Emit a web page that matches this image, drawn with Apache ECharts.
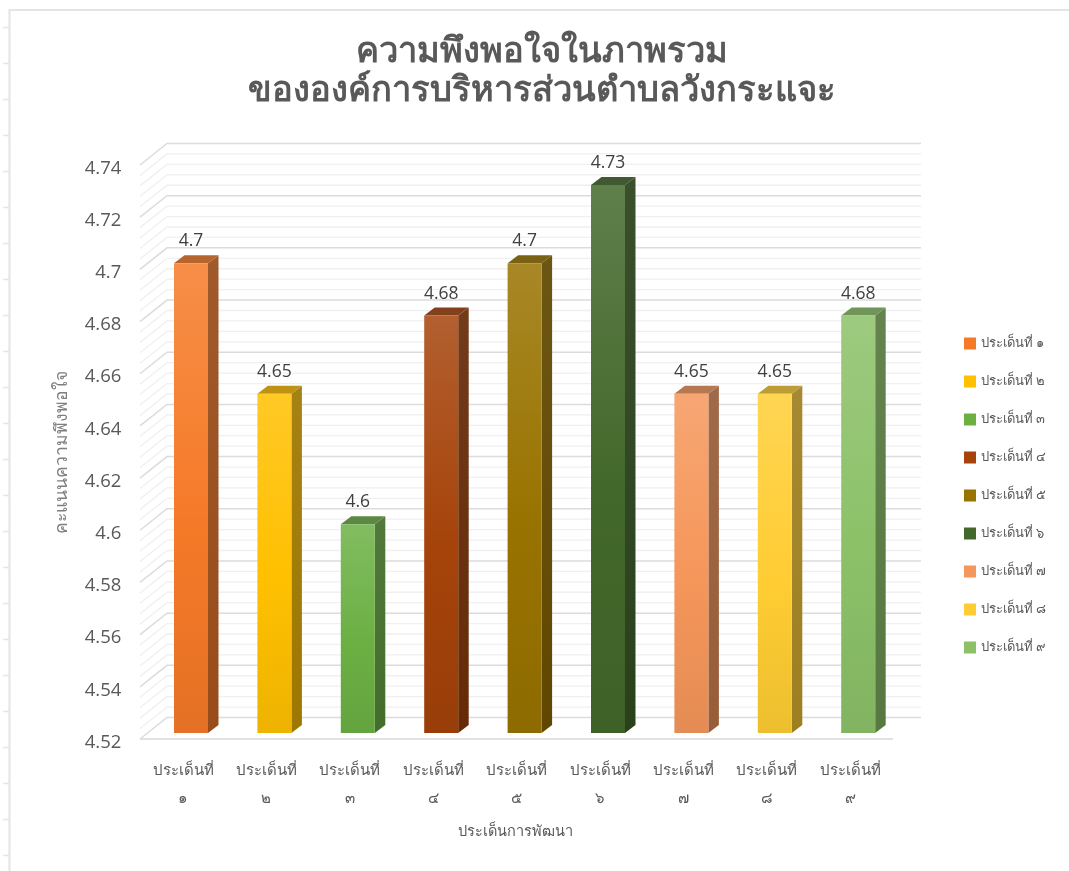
<!DOCTYPE html>
<html>
<head>
<meta charset="utf-8">
<style>html,body{margin:0;padding:0;background:#fff}#c{width:1069px;height:871px}</style>
<script src="https://cdn.jsdelivr.net/npm/echarts@6/dist/echarts.min.js"></script>
</head>
<body>
<div id="c"></div>
<script>
const titleText = "ความพึงพอใจในภาพรวม\nขององค์การบริหารส่วนตำบลวังกระแจะ";
const yAxisName = "คะแนนความพึงพอใจ";
const xAxisName = "ประเด็นการพัฒนา";
const categories = ["ประเด็นที่\n๑","ประเด็นที่\n๒","ประเด็นที่\n๓","ประเด็นที่\n๔","ประเด็นที่\n๕","ประเด็นที่\n๖","ประเด็นที่\n๗","ประเด็นที่\n๘","ประเด็นที่\n๙"];
const seriesNames = ["ประเด็นที่ ๑","ประเด็นที่ ๒","ประเด็นที่ ๓","ประเด็นที่ ๔","ประเด็นที่ ๕","ประเด็นที่ ๖","ประเด็นที่ ๗","ประเด็นที่ ๘","ประเด็นที่ ๙"];
const values = [4.7,4.65,4.6,4.68,4.7,4.73,4.65,4.65,4.68];
const palette = ["#F57A28","#FFC000","#6CB044","#A5430A","#997300","#43682B","#F5965A","#FFCD33","#8CC168"];
const majorGrid = [4.52,4.54,4.56,4.58,4.6,4.62,4.64,4.66,4.68,4.7,4.72,4.74];
const minorGrid = [4.524,4.528,4.532,4.536,4.544,4.548,4.552,4.556,4.564,4.568,4.572,4.576,4.584,4.588,4.592,4.596,4.604,4.608,4.612,4.616,4.624,4.628,4.632,4.636,4.644,4.648,4.652,4.656,4.664,4.668,4.672,4.676,4.684,4.688,4.692,4.696,4.704,4.708,4.712,4.716,4.724,4.728,4.732,4.736];

const FONT = '"Open Sans","Noto Sans","DejaVu Sans","Noto Sans CJK SC",sans-serif';
const Y_MIN = 4.52, Y_MAX = 4.74;
const chart = echarts.init(document.getElementById('c'), null, {renderer:'canvas'});

function rgb(c){return [1,3,5].map(i=>parseInt(c.substr(i,2),16));}
function mix(c,t,a){const x=Array.isArray(c)?c:rgb(c),y=rgb(t);return x.map((v,i)=>Math.round(v*(1-a)+y[i]*a));}
function css(a){return 'rgb('+a.join(',')+')';}

function renderBar(params, api){
  const color = palette[params.seriesIndex-1];
  const val = api.value(1);
  const top = api.coord([api.value(0), val]);
  const base = api.coord([api.value(0), Y_MIN]);
  const w = 34, dx = 10.5, dy = 8, shift = -6;
  const x0 = top[0]-w/2, x1 = top[0]+w/2;
  const yt = top[1]+shift, yb = base[1]+shift;
  const G = echarts.graphic.LinearGradient;
  return {type:'group',children:[
    {type:'polygon',shape:{points:[[x1,yt],[x1+dx,yt-dy],[x1+dx,yb-dy],[x1,yb]]},
     style:{fill:new G(0,0,0,1,[{offset:0,color:css(mix(mix(color,'#000000',.38),'#ffffff',.08))},{offset:1,color:css(mix(color,'#000000',.38))}])}},
    {type:'polygon',shape:{points:[[x0,yt],[x0+dx,yt-dy],[x1+dx,yt-dy],[x1,yt]]},
     style:{fill:css(mix(mix(color,'#000000',.28),'#ffffff',.08))}},
    {type:'rect',shape:{x:x0,y:yt,width:w,height:yb-yt},
     style:{fill:new G(0,0,0,1,[{offset:0,color:css(mix(color,'#ffffff',.15))},{offset:.55,color:color},{offset:1,color:css(mix(color,'#000000',.07))}])}},
    {type:'text',style:{text:String(val),x:top[0],y:yt-22,align:'center',verticalAlign:'middle',
      font:'17.5px '+FONT,fill:'#404040'}}
  ]};
}

function renderGrid(params, api){
  const v = api.value(0), major = api.value(1)===1;
  const front = api.coord([0,v])[1];
  const fx = 140, bx = 167, rx = 921, by = front-21.5;
  return {type:'polyline',shape:{points:[[fx,front],[bx,by],[rx,by]]},
    style:{fill:'none',stroke:major?'#dcdcdc':'#f0f0f0',lineWidth:major?1.5:1.3}};
}

function renderFloor(params, api){
  const y = api.coord([0,Y_MIN])[1];
  return {type:'line',shape:{x1:140,y1:y,x2:893,y2:y},style:{stroke:'#d9d9d9',lineWidth:1.5}};
}

const gridData = majorGrid.map(v=>[v,1]).concat(minorGrid.map(v=>[v,0]));
const barSeries = seriesNames.map((n,i)=>({
  name:n,type:'custom',coordinateSystem:'cartesian2d',renderItem:renderBar,clip:false,
  itemStyle:{color:palette[i]},encode:{x:0,y:1},
  data:[[i,values[i]]],z:3
}));

const rulerTicks = [];
for(let k=0;k<24;k++) rulerTicks.push({type:'line',silent:true,
  shape:{x1:3,y1:27.5+36*k,x2:9,y2:27.5+36*k},style:{stroke:'#e6e6e6',lineWidth:1.5}});

chart.setOption({
  backgroundColor:'#ffffff',animation:false,
  textStyle:{fontFamily:FONT},
  title:{text:titleText,left:537,top:28,textAlign:'center',
    textStyle:{fontSize:34.5,fontWeight:'bold',color:'#595959',lineHeight:39,fontFamily:FONT}},
  grid:{left:149.3,width:750.6,top:165,height:574,containLabel:false},
  legend:{orient:'vertical',left:964,top:337,padding:0,itemWidth:12,itemHeight:12,itemGap:25,icon:'rect',
    data:seriesNames,selectedMode:false,itemStyle:{borderWidth:0},
    textStyle:{fontSize:13,color:'#595959',fontFamily:FONT}},
  xAxis:{type:'category',data:categories,
    axisLine:{show:false},axisTick:{show:false},splitLine:{show:false},
    axisLabel:{interval:0,margin:18,fontSize:15,color:'#595959',lineHeight:28,fontFamily:FONT,padding:[0,16,0,0]},
    name:xAxisName,nameLocation:'middle',nameGap:86,
    nameTextStyle:{fontSize:14.5,color:'#595959',fontFamily:FONT,padding:[0,18,0,0]}},
  yAxis:{type:'value',min:Y_MIN,max:Y_MAX,interval:0.02,
    axisLine:{show:false},axisTick:{show:false},splitLine:{show:false},
    axisLabel:{margin:28,fontSize:18.5,color:'#595959',fontFamily:FONT,verticalAlign:'top',lineHeight:7},
    name:yAxisName,nameLocation:'middle',nameRotate:90,nameGap:79,
    nameTextStyle:{fontSize:17.5,color:'#7f7f7f',fontFamily:FONT}},
  graphic:{elements:[
    {type:'polyline',silent:true,shape:{points:[[9.5,871],[9.5,10],[1069,10]]},style:{fill:'none',stroke:'#e4e4e4',lineWidth:2}},
    ...rulerTicks
  ]},
  series:[
    {type:'custom',name:'gridlines',coordinateSystem:'cartesian2d',silent:true,clip:false,z:1,
     renderItem:renderGrid,encode:{y:0},data:gridData},
    ...barSeries,
    {type:'custom',name:'floor',coordinateSystem:'cartesian2d',silent:true,clip:false,z:2,
     renderItem:renderFloor,data:[[0]]}
  ]
});
</script>
</body>
</html>
